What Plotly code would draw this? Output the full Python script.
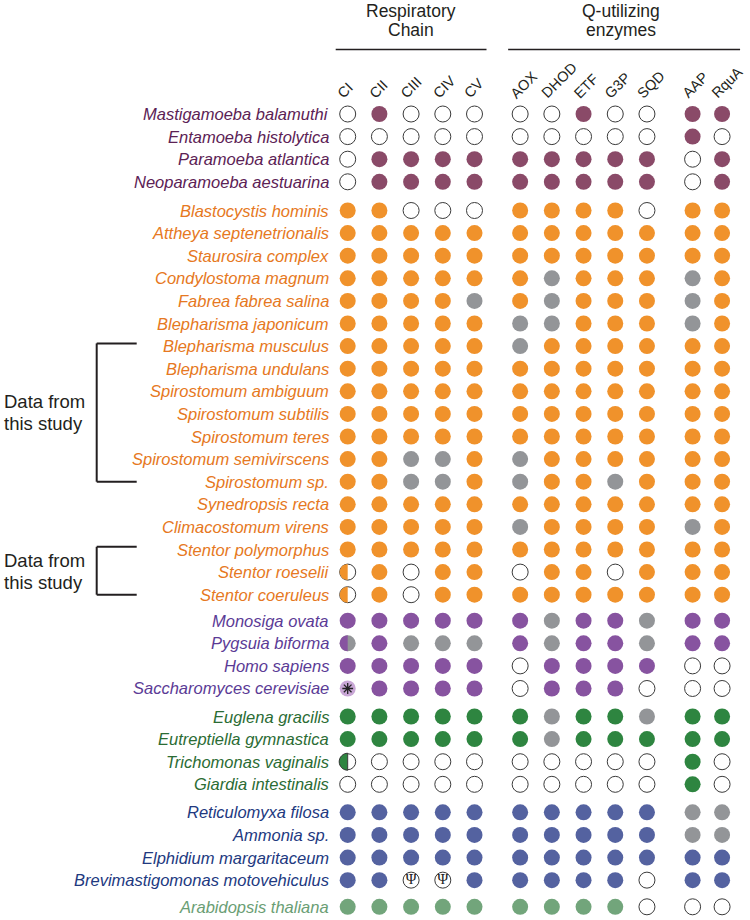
import plotly.graph_objects as go

# ---------------- data ----------------
columns = ["CI", "CII", "CIII", "CIV", "CV",
           "AOX", "DHOD", "ETF", "G3P", "SQD",
           "AAP", "RquA"]
column_group = [0, 0, 0, 0, 0, 1, 1, 1, 1, 1, 2, 2]

# F = present (group colour), G = grey, O = open/absent,
# H = half present (left), HG = half present / half grey,
# A = light with asterisk, P = open with psi
amoebozoa_species = ["Mastigamoeba balamuthi", "Entamoeba histolytica",
                     "Paramoeba atlantica", "Neoparamoeba aestuarina"]
amoebozoa_states = ["O F O O O O O F O O F F",
                    "O O O O O O O O O O F O",
                    "O F F F F F F F F F O F",
                    "O F F F F F F F F F O F"]

orange_species = ["Blastocystis hominis", "Attheya septenetrionalis", "Staurosira complex",
                  "Condylostoma magnum", "Fabrea fabrea salina", "Blepharisma japonicum",
                  "Blepharisma musculus", "Blepharisma undulans", "Spirostomum ambiguum",
                  "Spirostomum subtilis", "Spirostomum teres", "Spirostomum semivirscens",
                  "Spirostomum sp.", "Synedropsis recta", "Climacostomum virens",
                  "Stentor polymorphus", "Stentor roeselii", "Stentor coeruleus"]
orange_states = ["F F O O O F F F F O F F",
                 "F F F F F F F F F F F F",
                 "F F F F F F F F F F F F",
                 "F F F F F F G F F F G F",
                 "F F F F G F G F F F G F",
                 "F F F F F G G F F F G F",
                 "F F F F F G F F F F F F",
                 "F F F F F F F F F F F F",
                 "F F F F F F F F F F F F",
                 "F F F F F F F F F F F F",
                 "F F F F F F F F F F F F",
                 "F F G G F G F F F F F F",
                 "F F G G F G F F G F F F",
                 "F F F F F F F F F F F F",
                 "F F F F F G F F F F G F",
                 "F F F F F F F F F F F F",
                 "H F O F F O F F O F F F",
                 "H F O F F F F F F F F F"]

opisth_species = ["Monosiga ovata", "Pygsuia biforma", "Homo sapiens",
                  "Saccharomyces cerevisiae"]
opisth_states = ["F F F F F F G F F G F F",
                 "HG F G G G F G F F G F F",
                 "F F F F F O F F F F O O",
                 "A F F F F O F F F O O O"]

excavata_species = ["Euglena gracilis", "Eutreptiella gymnastica",
                    "Trichomonas vaginalis", "Giardia intestinalis"]
excavata_states = ["F F F F F F G F F G F F",
                   "F F F F F F G F F F F F",
                   "H O O O O O O O O O F O",
                   "O O O O O O O O O O F O"]

rhizaria_species = ["Reticulomyxa filosa", "Ammonia sp.", "Elphidium margaritaceum",
                    "Brevimastigomonas motovehiculus"]
rhizaria_states = ["F F F F F F F F F F G G",
                   "F F F F F F F F F F G G",
                   "F F F F F F F F F F F F",
                   "F F P P F F F F F O F F"]

plant_species = ["Arabidopsis thaliana"]
plant_states = ["F F F F F F F F F O O O"]

groups = [
    (amoebozoa_species, amoebozoa_states, "#8A4A68", "#5C2255"),
    (orange_species, orange_states, "#F0922B", "#E67822"),
    (opisth_species, opisth_states, "#8753A0", "#5B3B96"),
    (excavata_species, excavata_states, "#2E8540", "#2B6C34"),
    (rhizaria_species, rhizaria_states, "#5462A0", "#22397F"),
    (plant_species, plant_states, "#72A57B", "#6A9E74"),
]
group_gap_after = [0.27, 0.15, 0.24, 0.24, 0.18]

header_groups = [("Respiratory", "Chain"), ("Q-utilizing", "enzymes")]

GREY = "#939598"
DARK = "#231F20"
OPEN_LINE = "#3A3A3A"
LIGHT_PURPLE = "#C9A7D6"

# ---------------- layout geometry ----------------
W, H = 750, 920
X0_PX, UX = 347.7, 31.7      # pixel of CI, pixel per x unit
Y0_PX, UY = 114.0, 22.6      # pixel of first row, pixel per row

group_offset = [0.0, 5.44, 10.88]
group_step = [1.0, 1.0, 0.93]
col_x = []
counter = {}
for g in column_group:
    i = counter.get(g, 0)
    col_x.append(group_offset[g] + i * group_step[g])
    counter[g] = i + 1

def px(p):
    return p / W

def py(p):
    return 1 - p / H

# row positions
rows = []   # (name, states, fill, text, y)
yy = 0.0
for gi, (names, states, fill, tcol) in enumerate(groups):
    for n, s in zip(names, states):
        rows.append((n, s.split(), fill, tcol, yy))
        yy += 1
    if gi < len(group_gap_after):
        yy += group_gap_after[gi]

row_y = {r[0]: r[4] for r in rows}

# ---------------- marks ----------------
xs, ys, fills, lcols, lwidths = [], [], [], [], []
psi_x, psi_y = [], []
ast_x, ast_y = [], []
shapes = []

def half_path(r=8.0):
    k = 0.5523 * r
    return (f"M 0,{r} C {-k},{r} {-r},{k} {-r},0 "
            f"C {-r},{-k} {-k},{-r} 0,{-r} Z")

for name, st, fill, tcol, y in rows:
    for ci, code in enumerate(st):
        x = col_x[ci]
        xs.append(x)
        ys.append(y)
        if code == "F":
            fills.append(fill); lcols.append(fill); lwidths.append(0)
        elif code == "G":
            fills.append(GREY); lcols.append(GREY); lwidths.append(0)
        elif code in ("O", "H", "P"):
            fills.append("white"); lcols.append(OPEN_LINE); lwidths.append(1)
        elif code == "HG":
            fills.append(GREY); lcols.append(GREY); lwidths.append(0)
        elif code == "A":
            fills.append(LIGHT_PURPLE); lcols.append(LIGHT_PURPLE); lwidths.append(0)
        if code in ("H", "HG"):
            outline = (code == "H" and fill == "#2E8540")
            shapes.append(dict(
                type="path", xref="x", yref="y",
                xsizemode="pixel", ysizemode="pixel",
                xanchor=x, yanchor=y,
                path=half_path(8.5 if outline else 8.0),
                fillcolor=fill,
                line=dict(color=OPEN_LINE if outline else fill,
                          width=1 if outline else 0),
                layer="above"))
        if code == "P":
            psi_x.append(x); psi_y.append(y)
        if code == "A":
            ast_x.append(x); ast_y.append(y)

fig = go.Figure()
fig.add_trace(go.Scatter(
    x=xs, y=ys, mode="markers", hoverinfo="skip",
    marker=dict(size=16, color=fills,
                line=dict(color=lcols, width=lwidths)),
    showlegend=False))
fig.add_trace(go.Scatter(
    x=psi_x, y=psi_y, mode="text", text=["Ψ"] * len(psi_x),
    textposition="middle center",
    textfont=dict(family="Liberation Serif", size=15, color="#222222"),
    hoverinfo="skip", showlegend=False))
fig.add_trace(go.Scatter(
    x=ast_x, y=ast_y, mode="markers", hoverinfo="skip",
    marker=dict(symbol="asterisk-open", size=9, color="#222222",
                line=dict(color="#222222", width=1.3)),
    showlegend=False))

annotations = []
# species labels
for name, st, fill, tcol, y in rows:
    annotations.append(dict(
        x=px(331), xref="paper", y=y, yref="y",
        text=f"<i>{name}</i>", showarrow=False,
        xanchor="right", yanchor="middle",
        font=dict(family="Liberation Sans", size=16.5, color=tcol)))

# column labels
for cx, lab in zip(col_x, columns):
    annotations.append(dict(
        x=cx, xref="x", y=py(104), yref="paper",
        text=lab, showarrow=False, textangle=-45,
        xanchor="left", yanchor="bottom", xshift=-16,
        font=dict(family="Liberation Sans", size=14.5, color=DARK)))

# group headers + lines
group_cols = {}
for cx, g in zip(col_x, column_group):
    group_cols.setdefault(g, []).append(cx)
header_spans = [(0, [0]), (1, [1, 2])]
for (gi, gs), (l1, l2) in zip(header_spans, header_groups):
    xs_g = [c for g in gs for c in group_cols[g]]
    lo = X0_PX + min(xs_g) * UX - 12
    hi = X0_PX + max(xs_g) * UX + 12 + (6 if gi == 1 else 0)
    mid = (lo + hi) / 2 - (3 if gi == 1 else 0)
    annotations.append(dict(x=px(mid), xref="paper", y=py(10.5), yref="paper",
                            text=l1, showarrow=False, xanchor="center", yanchor="middle",
                            font=dict(family="Liberation Sans", size=17.5, color=DARK)))
    annotations.append(dict(x=px(mid), xref="paper", y=py(30), yref="paper",
                            text=l2, showarrow=False, xanchor="center", yanchor="middle",
                            font=dict(family="Liberation Sans", size=17.5, color=DARK)))
    shapes.append(dict(type="line", xref="paper", yref="paper",
                       x0=px(lo), x1=px(hi), y0=py(49.5), y1=py(49.5),
                       line=dict(color=DARK, width=1.6)))

# brackets "Data from this study"
brackets = [("Blepharisma musculus", "Spirostomum sp."),
            ("Stentor polymorphus", "Stentor coeruleus")]
for top, bot in brackets:
    y_top = row_y[top] - 0.12
    y_bot = row_y[bot] + 0.0
    for (xa, ya, xb, yb) in [(96.7, y_top, 96.7, y_bot),
                             (96.7, y_top, 136.7, y_top),
                             (96.7, y_bot, 136.7, y_bot)]:
        shapes.append(dict(type="line", xref="paper", yref="y",
                           x0=px(xa), x1=px(xb), y0=ya, y1=yb,
                           line=dict(color=DARK, width=2)))
    ymid = (y_top + y_bot) / 2
    annotations.append(dict(x=px(1.5), xref="paper", y=ymid - 0.47, yref="y",
                            text="Data from", showarrow=False,
                            xanchor="left", yanchor="middle",
                            font=dict(family="Liberation Sans", size=18.5, color=DARK)))
    annotations.append(dict(x=px(1.5), xref="paper", y=ymid + 0.5, yref="y",
                            text="this study", showarrow=False,
                            xanchor="left", yanchor="middle",
                            font=dict(family="Liberation Sans", size=18.5, color=DARK)))

fig.update_layout(
    width=W, height=H, autosize=False,
    margin=dict(l=0, r=0, t=0, b=0),
    paper_bgcolor="white", plot_bgcolor="white",
    xaxis=dict(range=[(0 - X0_PX) / UX, (W - X0_PX) / UX], visible=False, fixedrange=True),
    yaxis=dict(range=[(H - Y0_PX) / UY, (0 - Y0_PX) / UY], visible=False, fixedrange=True),
    annotations=annotations, shapes=shapes, showlegend=False)

# remove the browser's default 8px page margin so the figure fills the window
fig.write_html("out.html",
               config={"displayModeBar": False, "staticPlot": True},
               post_script="document.body.style.margin='0px';document.body.style.overflow='hidden';")
